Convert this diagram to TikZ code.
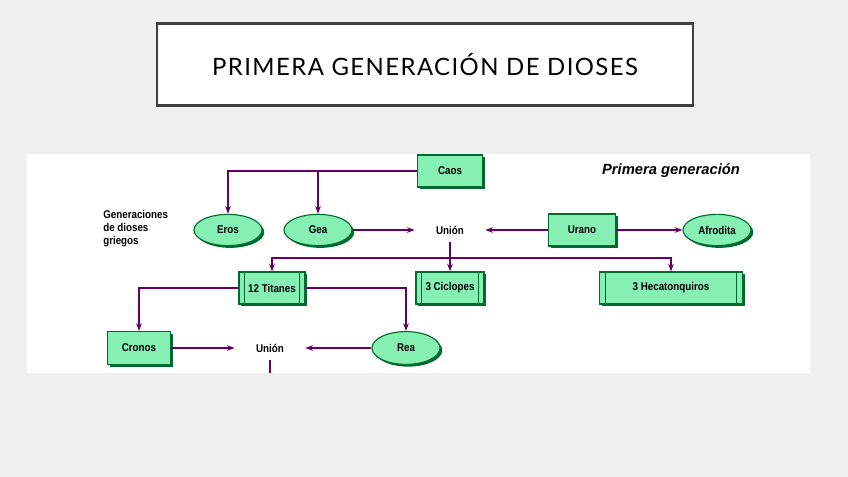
\documentclass[tikz,border=0pt]{standalone}
\usepackage{fontspec}
\setmainfont{Liberation Sans}
\newfontfamily\titlefont[LetterSpace=6]{Lato}
\newfontfamily\diagfont[FakeStretch=0.87]{Liberation Sans}
\usetikzlibrary{shapes.geometric,shadows,arrows.meta}

\definecolor{fondo}{HTML}{F0F0F0}
\definecolor{menta}{HTML}{86F0B4}
\definecolor{verdeosc}{HTML}{006B2E}
\definecolor{lila}{HTML}{660066}
\definecolor{marco}{HTML}{404040}

\begin{document}
\begin{tikzpicture}[x=0.025cm,y=-0.025cm,
  dios/.style={draw=verdeosc,fill=menta,line width=0.8pt,
    font=\diagfont\bfseries\fontsize{8}{9.5}\selectfont,minimum height=0.8cm,
    drop shadow={shadow xshift=1.6pt,shadow yshift=-1.6pt,opacity=1,fill=verdeosc}},
  diosa/.style={dios,ellipse,minimum width=1.7cm,minimum height=0.78cm,inner sep=0pt},
  grupo/.style={dios,path picture={
    \draw[verdeosc,line width=0.6pt]
      ([xshift=4pt]path picture bounding box.north west) -- ([xshift=4pt]path picture bounding box.south west)
      ([xshift=-4pt]path picture bounding box.north east) -- ([xshift=-4pt]path picture bounding box.south east);}},
  union/.style={font=\diagfont\bfseries\fontsize{8}{9.5}\selectfont,minimum width=1.75cm,minimum height=0.6cm},
  enlace/.style={draw=lila,line width=1pt,-{Stealth[length=5.5pt,width=4pt]}}]
\useasboundingbox (0,0) rectangle (848,477);
\fill[fondo] (0,0) rectangle (848,477);
\fill[white] (27,154) rectangle (810,373);

% titulo
\node[draw=marco,line width=1.5pt,fill=white,minimum width=13.4cm,minimum height=2.05cm]
  (titulo) at (425,64.5) {\titlefont\fontsize{17}{20}\selectfont PRIMERA GENERACIÓN DE DIOSES};

% primera fila
\node[dios,minimum width=1.62cm] (caos) at (450,171) {Caos};
\node[font=\bfseries\itshape\fontsize{10.5}{12}\selectfont] (primera) at (671,171) {Primera generación};
\node[anchor=west,align=left,font=\diagfont\bfseries\fontsize{8}{9.3}\selectfont,inner sep=0pt]
  (leyenda) at (103,229) {Generaciones\\de dioses\\griegos};
\node[diosa] (eros) at (228,230) {Eros};
\node[diosa] (gea) at (318,230) {Gea};
\node[union] (union1) at (450,230) {Unión};
\node[dios,minimum width=1.67cm] (urano) at (582,230) {Urano};
\node[diosa] (afrodita) at (717,230) {Afrodita};

% hijos
\coordinate (bus) at (450,258);
\node[grupo,minimum width=1.65cm] (titanes) at (272,288) {12 Titanes};
\node[grupo,minimum width=1.7cm] (ciclopes) at (450,288) {3 Ciclopes};
\node[grupo,minimum width=3.57cm] (hecaton) at (671,288) {3 Hecatonquiros};

% segunda fila
\node[dios,minimum width=1.57cm,minimum height=0.82cm] (cronos) at (139,348) {Cronos};
\node[union] (union2) at (270,348) {Unión};
\node[diosa,minimum height=0.82cm] (rea) at (406,348) {Rea};
\coordinate (corte) at (270,373);

\draw[enlace] (caos.west) -| (eros.north);
\draw[enlace] (caos.west) -| (gea.north);
\draw[enlace] (gea) -- (union1);
\draw[enlace] (urano) -- (union1);
\draw[enlace] (urano) -- (afrodita);
\draw[lila,line width=1pt] (union1.south) -- (bus);
\draw[enlace] (bus) -| (titanes.north);
\draw[enlace] (bus) -- (ciclopes.north);
\draw[enlace] (bus) -| (hecaton.north);
\draw[enlace] (titanes.west) -| (cronos.north);
\draw[enlace] (titanes.east) -| (rea.north);
\draw[enlace] (cronos) -- (union2);
\draw[enlace] (rea) -- (union2);
\draw[lila,line width=1pt] (union2.south) -- (corte);
\end{tikzpicture}
\end{document}
